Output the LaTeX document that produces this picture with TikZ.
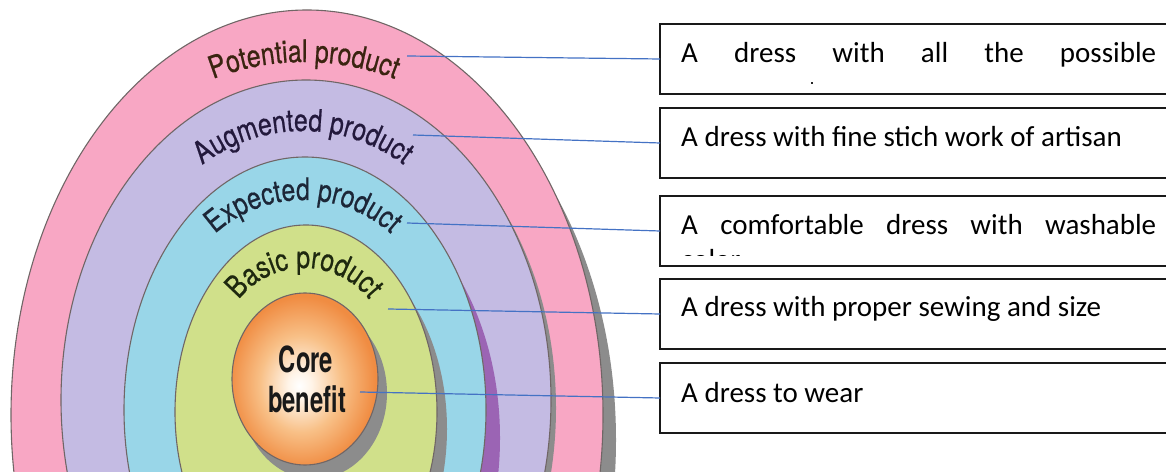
\documentclass[tikz,border=0pt]{standalone}
\usepackage{fontspec}
\setmainfont{Carlito}
\newfontfamily\ringfont[FakeStretch=0.8,FakeBold=0.6]{TeX Gyre Heros}
\newfontfamily\corefont[FakeStretch=0.66]{TeX Gyre Heros}
\usetikzlibrary{decorations.text}

% ring fills, shadows and edges
\definecolor{pinkR}{RGB}{248,167,196}
\definecolor{lavR}{RGB}{196,187,227}
\definecolor{cyanR}{RGB}{153,214,232}
\definecolor{greenR}{RGB}{208,224,138}
\definecolor{shadowG}{RGB}{140,140,140}
\definecolor{purpleS}{RGB}{155,100,180}
\definecolor{ringEdge}{RGB}{112,102,102}
% core gradient
\definecolor{coreA}{RGB}{255,244,232}
\definecolor{coreB}{RGB}{248,192,135}
\definecolor{coreC}{RGB}{240,140,66}
% label colours
\definecolor{potC}{RGB}{58,36,16}
\definecolor{augC}{RGB}{35,25,60}
\definecolor{expC}{RGB}{28,38,55}
\definecolor{basC}{RGB}{30,40,15}
\definecolor{lineBlue}{RGB}{68,114,196}
\definecolor{boxEdge}{RGB}{25,25,25}

\pgfdeclareradialshading{coreglow}{\pgfpoint{-2bp}{-2bp}}{%
  color(0bp)=(white); color(4bp)=(coreA); color(14bp)=(coreB);
  color(25bp)=(coreC); color(50bp)=(coreC)}

\begin{document}
\begin{tikzpicture}[x=1pt,y=1pt,
  ring/.style={draw=ringEdge, line width=1.1pt},
  infobox/.style={draw=boxEdge, line width=1.8pt, rectangle, anchor=north west,
    minimum width=520pt, minimum height=70pt, inner sep=0pt, outer sep=0pt},
  boxtext/.style={anchor=base west, inner sep=0pt, text=black,
    font=\fontsize{29}{35}\selectfont},
  corelabel/.style={anchor=base, inner sep=0pt, text={black!90},
    font=\corefont\bfseries\fontsize{36}{40}\selectfont},
  leader/.style={draw=lineBlue, line width=1.2pt}]
\useasboundingbox (0,0) rectangle (1166,471);

% concentric product levels, each with its offset shadow
\begin{scope}
  \clip (0,0) rectangle (1166,471);
  \fill[shadowG] (320,31) ellipse[x radius=296pt, y radius=405pt];
  \filldraw[ring, fill=pinkR] (307,56) ellipse[x radius=296pt, y radius=405pt];
  \fill[shadowG] (311,63) ellipse[x radius=245pt, y radius=320pt];
  \filldraw[ring, fill=lavR] (306,71) ellipse[x radius=245pt, y radius=320pt];
  \fill[purpleS] (319,33) ellipse[x radius=181pt, y radius=253pt];
  \filldraw[ring, fill=cyanR] (305,61) ellipse[x radius=181pt, y radius=253pt];
  \fill[shadowG] (316,42) ellipse[x radius=131pt, y radius=187pt];
  \filldraw[ring, fill=greenR] (306,59) ellipse[x radius=131pt, y radius=187pt];
  \fill[shadowG] (314,78) ellipse[x radius=73pt, y radius=86pt];
  \shadedraw[ring, shading=coreglow] (305,92) ellipse[x radius=73pt, y radius=86pt];
\end{scope}

% curved level names
\path[decorate, decoration={text along path, text align=center, text color=potC,
    text={|\ringfont\fontsize{31}{31}\selectfont|Potential product}}]
  ([shift={(125:251pt)}]304,158) arc[start angle=125, end angle=55, radius=251pt];
\path[decorate, decoration={text along path, text align=center, text color=augC,
    text={|\ringfont\fontsize{31}{31}\selectfont|Augmented product}}]
  ([shift={(135:166pt)}]303,174) arc[start angle=135, end angle=45, radius=166pt];
\path[decorate, decoration={text along path, text align=center, text color=expC,
    text={|\ringfont\fontsize{31}{31}\selectfont|Expected product}}]
  ([shift={(140:131pt)}]303,140) arc[start angle=140, end angle=40, radius=131pt];
\path[decorate, decoration={text along path, text align=center, text color=basC,
    text={|\ringfont\fontsize{31}{31}\selectfont|Basic product}}]
  ([shift={(155:83pt)}]304,120) arc[start angle=155, end angle=25, radius=83pt];

\node[corelabel] (coreA) at (306,99) {Core};
\node[corelabel] (coreB) at (307,59) {benefit};

% description boxes
\node[infobox] (b1) at (660,447) {};
\node[infobox] (b2) at (660,363) {};
\node[infobox] (b3) at (660,275) {};
\node[infobox] (b4) at (660,192) {};
\node[infobox] (b5) at (660,108) {};

\node[boxtext] (t1) at (681,408) {\makebox[475pt][s]{A dress with all the possible}};
\node[boxtext] (t2) at (681,324) {A dress with fine stich work of artisan};
\node[boxtext] (t3) at (681,236) {\makebox[475pt][s]{A comfortable dress with washable}};
\node[boxtext] (t4) at (681,154) {A dress with proper sewing and size};
\node[boxtext] (t5) at (681,69) {A dress to wear};

% overflowing second lines, cut off by the text frame
\begin{scope}
  \clip (662,215.5) rectangle (1166,273);
  \node[boxtext] (t3b) at (681,201) {color};
\end{scope}
\fill[black!85] (811,387) rectangle (813,389);

% leader lines from the levels to the boxes
\coordinate (p1) at (407,415);
\coordinate (p2) at (413,336);
\coordinate (p3) at (407,248);
\coordinate (p4) at (388,162);
\coordinate (p5) at (360,79);
\draw[leader] (p1) -- (b1.west);
\draw[leader] (p2) -- (b2.west);
\draw[leader] (p3) -- (b3.west);
\draw[leader] (p4) -- (b4.west);
\draw[leader] (p5) -- (b5.west);
\end{tikzpicture}
\end{document}
